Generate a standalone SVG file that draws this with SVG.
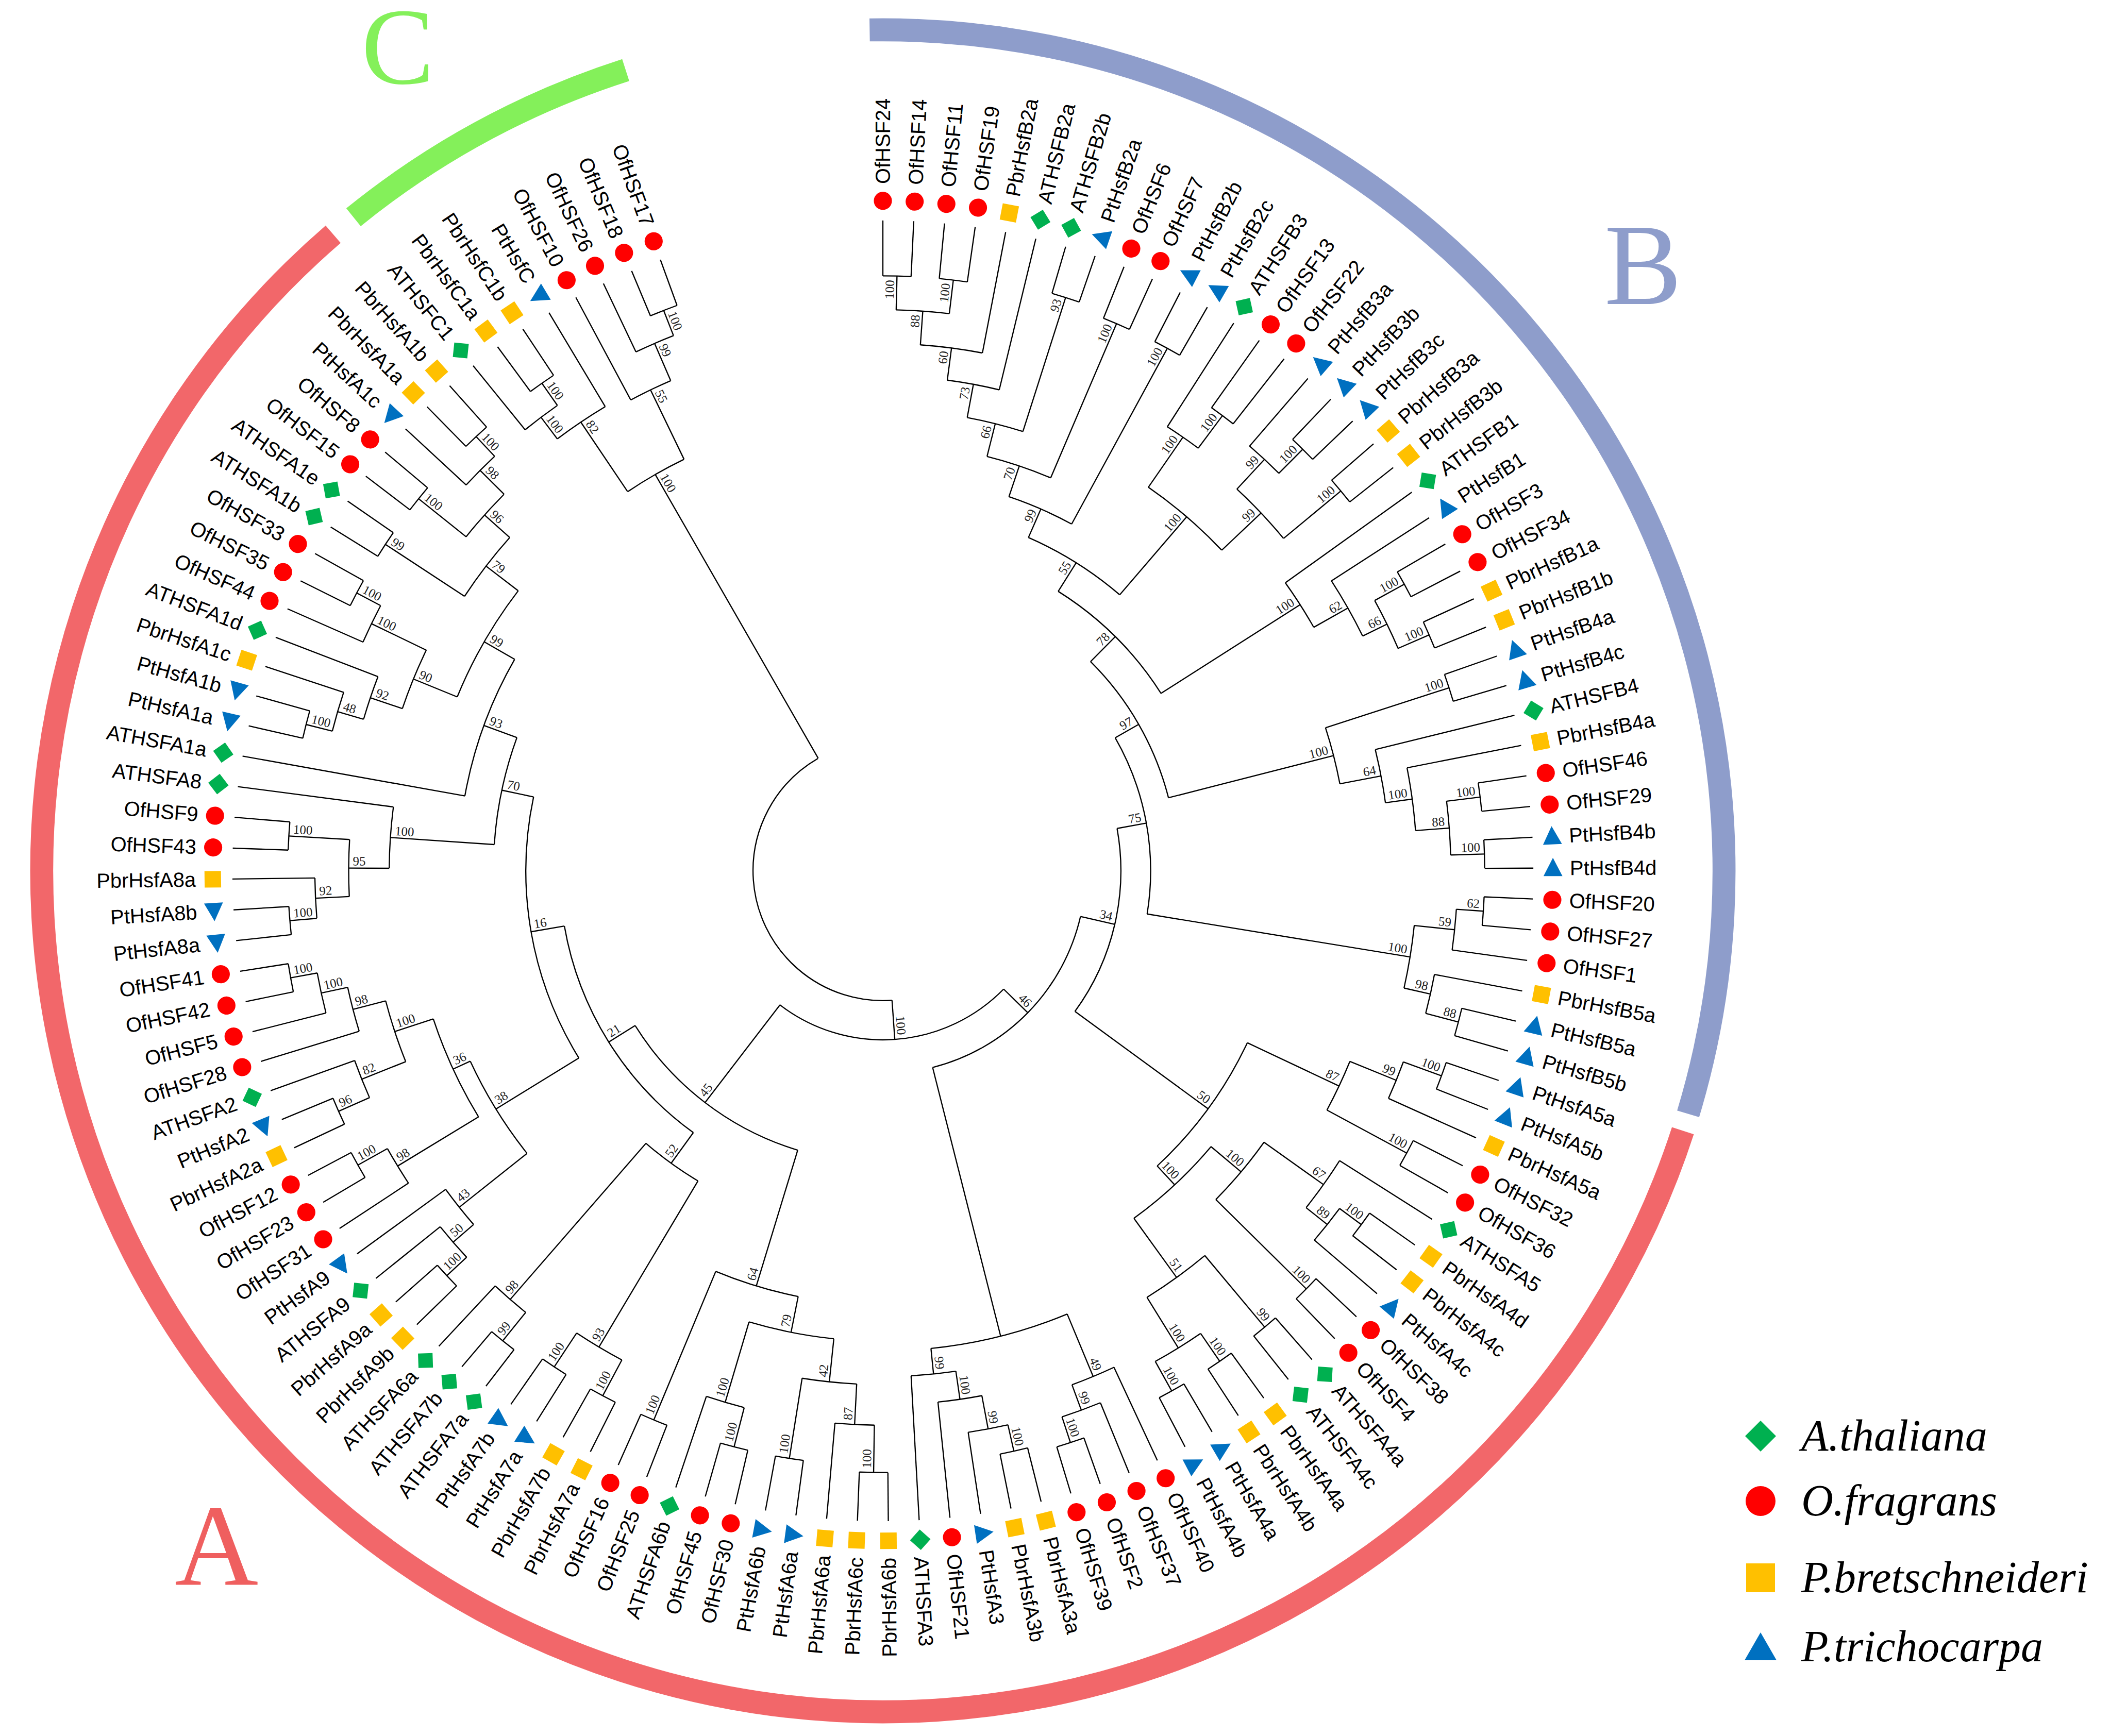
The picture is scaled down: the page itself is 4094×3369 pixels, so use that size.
<svg xmlns="http://www.w3.org/2000/svg" xmlns:xlink="http://www.w3.org/1999/xlink" width="4094" height="3369" viewBox="0 0 4094 3369">
<style>
.e path,.e circle{fill:none;stroke:#000;stroke-width:0.9}
.lab{font-family:"Liberation Sans",Arial,sans-serif;font-size:15.2px;fill:#000}
.l{text-anchor:end}
.bs{font-family:"Liberation Serif","Times New Roman",serif;font-size:9.5px;fill:#222;text-anchor:end}
.bsl{font-family:"Liberation Serif","Times New Roman",serif;font-size:9.5px;fill:#222;text-anchor:start}
.ring{fill:none;stroke-width:17}
.big{font-family:"Liberation Serif","Times New Roman",serif;font-size:225px;text-anchor:middle}
.leg{font-family:"Liberation Serif","Times New Roman",serif;font-style:italic;font-size:86px;fill:#000}
</style>
<defs>
<circle id="ci" r="6.7" fill="#ff0000"/>
<rect id="sq" x="-6.1" y="-6.1" width="12.2" height="12.2" fill="#ffc000"/>
<polygon id="di" points="0,-7.6 7.6,0 0,7.6 -7.6,0" fill="#00b050"/>
<polygon id="tr" points="-7.5,0 6,-7 6,7" fill="#0070c0"/>
</defs>
<rect width="4094" height="3369" fill="#fff"/>
<g transform="translate(1713,1690) scale(2.624) rotate(-1.4)">
<g id="rings">
<circle class="ring" r="622" stroke="#8e9dcb" pathLength="360" stroke-dasharray="107.7 400" transform="rotate(-89.5)"/>
<circle class="ring" r="622" stroke="#f2676a" pathLength="360" stroke-dasharray="211.2 400" transform="rotate(19.4)"/>
<circle class="ring" r="622" stroke="#84f05a" pathLength="360" stroke-dasharray="21.2 400" transform="rotate(232.4)"/>
</g>
<g id="connectors" class="e">
<circle r="96" pathLength="360" stroke-dasharray="154.19 400" transform="rotate(87.35)"/>
<circle r="125" pathLength="360" stroke-dasharray="83.1 400" transform="rotate(45.8)"/>
<circle r="150" pathLength="360" stroke-dasharray="62.8 400" transform="rotate(14.4)"/>
<circle r="176" pathLength="360" stroke-dasharray="46.46 400" transform="rotate(-8.86)"/>
<circle r="198" pathLength="360" stroke-dasharray="39.08 400" transform="rotate(-28.4)"/>
<circle r="218" pathLength="360" stroke-dasharray="30.87 400" transform="rotate(-43.82)"/>
<circle r="244" pathLength="360" stroke-dasharray="25.36 400" transform="rotate(-56.5)"/>
<circle r="269" pathLength="360" stroke-dasharray="17.04 400" transform="rotate(-65.01)"/>
<circle r="292" pathLength="360" stroke-dasharray="9.94 400" transform="rotate(-69.98)"/>
<circle r="316" pathLength="360" stroke-dasharray="9.01 400" transform="rotate(-74.49)"/>
<circle r="341" pathLength="360" stroke-dasharray="7.14 400" transform="rotate(-78.06)"/>
<circle r="366" pathLength="360" stroke-dasharray="6.12 400" transform="rotate(-81.12)"/>
<circle r="390" pathLength="360" stroke-dasharray="6.8 400" transform="rotate(-84.52)"/>
<circle r="415" pathLength="360" stroke-dasharray="5.44 400" transform="rotate(-87.24)"/>
<circle r="440" pathLength="360" stroke-dasharray="2.72 400" transform="rotate(-88.6)"/>
<circle r="440" pathLength="360" stroke-dasharray="2.72 400" transform="rotate(-83.16)"/>
<circle r="445" pathLength="360" stroke-dasharray="2.72 400" transform="rotate(-72.28)"/>
<circle r="440" pathLength="360" stroke-dasharray="2.72 400" transform="rotate(-66.84)"/>
<circle r="440" pathLength="360" stroke-dasharray="2.72 400" transform="rotate(-61.4)"/>
<circle r="345" pathLength="360" stroke-dasharray="11.9 400" transform="rotate(-53.92)"/>
<circle r="390" pathLength="360" stroke-dasharray="4.08 400" transform="rotate(-55.96)"/>
<circle r="420" pathLength="360" stroke-dasharray="2.72 400" transform="rotate(-53.24)"/>
<circle r="385" pathLength="360" stroke-dasharray="7.48 400" transform="rotate(-45.76)"/>
<circle r="415" pathLength="360" stroke-dasharray="4.08 400" transform="rotate(-47.8)"/>
<circle r="440" pathLength="360" stroke-dasharray="2.72 400" transform="rotate(-45.08)"/>
<circle r="440" pathLength="360" stroke-dasharray="2.72 400" transform="rotate(-39.64)"/>
<circle r="366" pathLength="360" stroke-dasharray="6.12 400" transform="rotate(-34.2)"/>
<circle r="395" pathLength="360" stroke-dasharray="6.8 400" transform="rotate(-31.48)"/>
<circle r="415" pathLength="360" stroke-dasharray="5.44 400" transform="rotate(-27.4)"/>
<circle r="440" pathLength="360" stroke-dasharray="2.72 400" transform="rotate(-28.76)"/>
<circle r="440" pathLength="360" stroke-dasharray="2.72 400" transform="rotate(-23.32)"/>
<circle r="344" pathLength="360" stroke-dasharray="7.14 400" transform="rotate(-16.52)"/>
<circle r="440" pathLength="360" stroke-dasharray="2.72 400" transform="rotate(-17.88)"/>
<circle r="375" pathLength="360" stroke-dasharray="6.12 400" transform="rotate(-12.44)"/>
<circle r="395" pathLength="360" stroke-dasharray="6.8 400" transform="rotate(-9.72)"/>
<circle r="420" pathLength="360" stroke-dasharray="5.44 400" transform="rotate(-5.64)"/>
<circle r="445" pathLength="360" stroke-dasharray="2.72 400" transform="rotate(-7)"/>
<circle r="445" pathLength="360" stroke-dasharray="2.72 400" transform="rotate(-1.56)"/>
<circle r="395" pathLength="360" stroke-dasharray="6.8 400" transform="rotate(7.28)"/>
<circle r="425" pathLength="360" stroke-dasharray="4.08 400" transform="rotate(5.24)"/>
<circle r="445" pathLength="360" stroke-dasharray="2.72 400" transform="rotate(3.88)"/>
<circle r="415" pathLength="360" stroke-dasharray="4.08 400" transform="rotate(12.04)"/>
<circle r="440" pathLength="360" stroke-dasharray="2.72 400" transform="rotate(14.76)"/>
<circle r="298" pathLength="360" stroke-dasharray="21.84 400" transform="rotate(26.66)"/>
<circle r="373" pathLength="360" stroke-dasharray="6.12 400" transform="rotate(23.6)"/>
<circle r="410" pathLength="360" stroke-dasharray="4.08 400" transform="rotate(21.56)"/>
<circle r="440" pathLength="360" stroke-dasharray="2.72 400" transform="rotate(20.2)"/>
<circle r="440" pathLength="360" stroke-dasharray="2.72 400" transform="rotate(28.36)"/>
<circle r="317" pathLength="360" stroke-dasharray="14.11 400" transform="rotate(41.45)"/>
<circle r="346" pathLength="360" stroke-dasharray="9.18 400" transform="rotate(36.86)"/>
<circle r="400" pathLength="360" stroke-dasharray="6.12 400" transform="rotate(33.8)"/>
<circle r="420" pathLength="360" stroke-dasharray="4.08 400" transform="rotate(37.88)"/>
<circle r="440" pathLength="360" stroke-dasharray="2.72 400" transform="rotate(36.52)"/>
<circle r="440" pathLength="360" stroke-dasharray="2.72 400" transform="rotate(44.68)"/>
<circle r="371" pathLength="360" stroke-dasharray="8.16 400" transform="rotate(51.48)"/>
<circle r="440" pathLength="360" stroke-dasharray="2.72 400" transform="rotate(50.12)"/>
<circle r="415" pathLength="360" stroke-dasharray="5.44 400" transform="rotate(56.92)"/>
<circle r="440" pathLength="360" stroke-dasharray="2.72 400" transform="rotate(55.56)"/>
<circle r="440" pathLength="360" stroke-dasharray="2.72 400" transform="rotate(61)"/>
<circle r="355" pathLength="360" stroke-dasharray="16.83 400" transform="rotate(68.82)"/>
<circle r="405" pathLength="360" stroke-dasharray="4.76 400" transform="rotate(66.44)"/>
<circle r="425" pathLength="360" stroke-dasharray="4.08 400" transform="rotate(69.16)"/>
<circle r="445" pathLength="360" stroke-dasharray="2.72 400" transform="rotate(71.88)"/>
<circle r="374" pathLength="360" stroke-dasharray="5.1 400" transform="rotate(83.1)"/>
<circle r="395" pathLength="360" stroke-dasharray="4.76 400" transform="rotate(80.72)"/>
<circle r="420" pathLength="360" stroke-dasharray="4.08 400" transform="rotate(78.68)"/>
<circle r="440" pathLength="360" stroke-dasharray="2.72 400" transform="rotate(77.32)"/>
<circle r="216" pathLength="360" stroke-dasharray="41.05 400" transform="rotate(108.35)"/>
<circle r="321" pathLength="360" stroke-dasharray="11.39 400" transform="rotate(102.65)"/>
<circle r="348" pathLength="360" stroke-dasharray="10.54 400" transform="rotate(97.38)"/>
<circle r="380" pathLength="360" stroke-dasharray="6.12 400" transform="rotate(94.32)"/>
<circle r="410" pathLength="360" stroke-dasharray="4.08 400" transform="rotate(92.28)"/>
<circle r="445" pathLength="360" stroke-dasharray="2.72 400" transform="rotate(90.92)"/>
<circle r="440" pathLength="360" stroke-dasharray="2.72 400" transform="rotate(99.08)"/>
<circle r="410" pathLength="360" stroke-dasharray="4.08 400" transform="rotate(105.88)"/>
<circle r="440" pathLength="360" stroke-dasharray="2.72 400" transform="rotate(104.52)"/>
<circle r="440" pathLength="360" stroke-dasharray="2.72 400" transform="rotate(112.68)"/>
<circle r="239" pathLength="360" stroke-dasharray="44.27 400" transform="rotate(127.3)"/>
<circle r="267" pathLength="360" stroke-dasharray="10.2 400" transform="rotate(122.2)"/>
<circle r="410" pathLength="360" stroke-dasharray="5.44 400" transform="rotate(119.48)"/>
<circle r="440" pathLength="360" stroke-dasharray="2.72 400" transform="rotate(118.12)"/>
<circle r="440" pathLength="360" stroke-dasharray="2.72 400" transform="rotate(123.56)"/>
<circle r="420" pathLength="360" stroke-dasharray="4.08 400" transform="rotate(130.36)"/>
<circle r="447" pathLength="360" stroke-dasharray="2.72 400" transform="rotate(129)"/>
<circle r="264" pathLength="360" stroke-dasharray="43.57 400" transform="rotate(149.78)"/>
<circle r="336" pathLength="360" stroke-dasharray="13.69 400" transform="rotate(142.94)"/>
<circle r="400" pathLength="360" stroke-dasharray="4.76 400" transform="rotate(140.56)"/>
<circle r="420" pathLength="360" stroke-dasharray="4.08 400" transform="rotate(138.52)"/>
<circle r="440" pathLength="360" stroke-dasharray="2.72 400" transform="rotate(137.16)"/>
<circle r="350" pathLength="360" stroke-dasharray="13.09 400" transform="rotate(150.08)"/>
<circle r="420" pathLength="360" stroke-dasharray="4.08 400" transform="rotate(148.04)"/>
<circle r="445" pathLength="360" stroke-dasharray="2.72 400" transform="rotate(150.76)"/>
<circle r="380" pathLength="360" stroke-dasharray="7.14 400" transform="rotate(159.6)"/>
<circle r="415" pathLength="360" stroke-dasharray="4.08 400" transform="rotate(157.56)"/>
<circle r="440" pathLength="360" stroke-dasharray="2.72 400" transform="rotate(156.2)"/>
<circle r="405" pathLength="360" stroke-dasharray="4.76 400" transform="rotate(164.36)"/>
<circle r="425" pathLength="360" stroke-dasharray="4.08 400" transform="rotate(167.08)"/>
<circle r="445" pathLength="360" stroke-dasharray="2.72 400" transform="rotate(169.8)"/>
<circle r="288" pathLength="360" stroke-dasharray="16.15 400" transform="rotate(185.27)"/>
<circle r="365" pathLength="360" stroke-dasharray="7.14 400" transform="rotate(181.7)"/>
<circle r="395" pathLength="360" stroke-dasharray="6.12 400" transform="rotate(178.64)"/>
<circle r="420" pathLength="360" stroke-dasharray="4.08 400" transform="rotate(176.6)"/>
<circle r="440" pathLength="360" stroke-dasharray="2.72 400" transform="rotate(175.24)"/>
<circle r="440" pathLength="360" stroke-dasharray="2.72 400" transform="rotate(183.4)"/>
<circle r="314" pathLength="360" stroke-dasharray="19.72 400" transform="rotate(191.56)"/>
<circle r="340" pathLength="360" stroke-dasharray="15.3 400" transform="rotate(203.63)"/>
<circle r="375" pathLength="360" stroke-dasharray="7.14 400" transform="rotate(200.06)"/>
<circle r="400" pathLength="360" stroke-dasharray="4.76 400" transform="rotate(197.68)"/>
<circle r="420" pathLength="360" stroke-dasharray="4.08 400" transform="rotate(195.64)"/>
<circle r="440" pathLength="360" stroke-dasharray="2.72 400" transform="rotate(194.28)"/>
<circle r="420" pathLength="360" stroke-dasharray="4.08 400" transform="rotate(205.16)"/>
<circle r="440" pathLength="360" stroke-dasharray="2.72 400" transform="rotate(207.88)"/>
<circle r="370" pathLength="360" stroke-dasharray="8.5 400" transform="rotate(214.68)"/>
<circle r="440" pathLength="360" stroke-dasharray="2.72 400" transform="rotate(213.32)"/>
<circle r="395" pathLength="360" stroke-dasharray="6.12 400" transform="rotate(220.12)"/>
<circle r="440" pathLength="360" stroke-dasharray="2.72 400" transform="rotate(218.76)"/>
<circle r="420" pathLength="360" stroke-dasharray="4.08 400" transform="rotate(224.2)"/>
<circle r="440" pathLength="360" stroke-dasharray="2.72 400" transform="rotate(226.92)"/>
<circle r="338" pathLength="360" stroke-dasharray="8.16 400" transform="rotate(237.46)"/>
<circle r="400" pathLength="360" stroke-dasharray="6.12 400" transform="rotate(234.4)"/>
<circle r="420" pathLength="360" stroke-dasharray="4.08 400" transform="rotate(232.36)"/>
<circle r="440" pathLength="360" stroke-dasharray="2.72 400" transform="rotate(235.08)"/>
<circle r="395" pathLength="360" stroke-dasharray="4.76 400" transform="rotate(243.24)"/>
<circle r="425" pathLength="360" stroke-dasharray="4.08 400" transform="rotate(245.96)"/>
<circle r="445" pathLength="360" stroke-dasharray="2.72 400" transform="rotate(248.68)"/>
<path d="M0-96V-125" transform="rotate(177.35)"/>
<path d="M0-96V-338" transform="rotate(331.54)"/>
<path d="M0-125V-150" transform="rotate(135.8)"/>
<path d="M0-125V-216" transform="rotate(218.9)"/>
<path d="M0-150V-176" transform="rotate(104.4)"/>
<path d="M0-150V-355" transform="rotate(167.2)"/>
<path d="M0-176V-198" transform="rotate(81.14)"/>
<path d="M0-176V-298" transform="rotate(127.6)"/>
<path d="M0-198V-218" transform="rotate(61.6)"/>
<path d="M0-198V-395" transform="rotate(100.68)"/>
<path d="M0-218V-244" transform="rotate(46.18)"/>
<path d="M0-218V-344" transform="rotate(77.05)"/>
<path d="M0-244V-269" transform="rotate(33.5)"/>
<path d="M0-244V-366" transform="rotate(58.86)"/>
<path d="M0-269V-292" transform="rotate(24.99)"/>
<path d="M0-269V-345" transform="rotate(42.03)"/>
<path d="M0-292V-316" transform="rotate(20.02)"/>
<path d="M0-292V-440" transform="rotate(29.96)"/>
<path d="M0-316V-341" transform="rotate(15.51)"/>
<path d="M0-316V-440" transform="rotate(24.52)"/>
<path d="M0-341V-366" transform="rotate(11.94)"/>
<path d="M0-341V-445" transform="rotate(19.08)"/>
<path d="M0-366V-390" transform="rotate(8.88)"/>
<path d="M0-390V-415" transform="rotate(5.48)"/>
<path d="M0-415V-440" transform="rotate(2.76)"/>
<path d="M0-415V-440" transform="rotate(8.2)"/>
<path d="M0-345V-390" transform="rotate(36.08)"/>
<path d="M0-345V-385" transform="rotate(47.98)"/>
<path d="M0-390V-420" transform="rotate(38.12)"/>
<path d="M0-385V-415" transform="rotate(44.24)"/>
<path d="M0-385V-440" transform="rotate(51.72)"/>
<path d="M0-415V-440" transform="rotate(46.28)"/>
<path d="M0-366V-395" transform="rotate(61.92)"/>
<path d="M0-395V-415" transform="rotate(65.32)"/>
<path d="M0-415V-440" transform="rotate(62.6)"/>
<path d="M0-415V-440" transform="rotate(68.04)"/>
<path d="M0-344V-440" transform="rotate(73.48)"/>
<path d="M0-344V-375" transform="rotate(80.62)"/>
<path d="M0-375V-395" transform="rotate(83.68)"/>
<path d="M0-395V-420" transform="rotate(87.08)"/>
<path d="M0-420V-445" transform="rotate(84.36)"/>
<path d="M0-420V-445" transform="rotate(89.8)"/>
<path d="M0-395V-425" transform="rotate(97.28)"/>
<path d="M0-395V-415" transform="rotate(104.08)"/>
<path d="M0-425V-445" transform="rotate(95.24)"/>
<path d="M0-415V-440" transform="rotate(106.12)"/>
<path d="M0-298V-373" transform="rotate(116.66)"/>
<path d="M0-298V-317" transform="rotate(138.5)"/>
<path d="M0-373V-410" transform="rotate(113.6)"/>
<path d="M0-373V-440" transform="rotate(119.72)"/>
<path d="M0-410V-440" transform="rotate(111.56)"/>
<path d="M0-317V-346" transform="rotate(131.45)"/>
<path d="M0-317V-371" transform="rotate(145.56)"/>
<path d="M0-346V-400" transform="rotate(126.86)"/>
<path d="M0-346V-440" transform="rotate(136.04)"/>
<path d="M0-400V-420" transform="rotate(129.92)"/>
<path d="M0-420V-440" transform="rotate(127.88)"/>
<path d="M0-371V-440" transform="rotate(141.48)"/>
<path d="M0-371V-415" transform="rotate(149.64)"/>
<path d="M0-415V-440" transform="rotate(146.92)"/>
<path d="M0-415V-440" transform="rotate(152.36)"/>
<path d="M0-355V-405" transform="rotate(158.82)"/>
<path d="M0-355V-374" transform="rotate(175.65)"/>
<path d="M0-405V-425" transform="rotate(161.2)"/>
<path d="M0-425V-445" transform="rotate(163.24)"/>
<path d="M0-374V-395" transform="rotate(173.1)"/>
<path d="M0-395V-420" transform="rotate(170.72)"/>
<path d="M0-420V-440" transform="rotate(168.68)"/>
<path d="M0-216V-321" transform="rotate(198.35)"/>
<path d="M0-216V-239" transform="rotate(239.4)"/>
<path d="M0-321V-348" transform="rotate(192.65)"/>
<path d="M0-321V-440" transform="rotate(204.04)"/>
<path d="M0-348V-380" transform="rotate(187.38)"/>
<path d="M0-348V-410" transform="rotate(197.92)"/>
<path d="M0-380V-410" transform="rotate(184.32)"/>
<path d="M0-380V-440" transform="rotate(190.44)"/>
<path d="M0-410V-445" transform="rotate(182.28)"/>
<path d="M0-410V-440" transform="rotate(195.88)"/>
<path d="M0-239V-267" transform="rotate(217.3)"/>
<path d="M0-239V-264" transform="rotate(261.57)"/>
<path d="M0-267V-410" transform="rotate(212.2)"/>
<path d="M0-267V-420" transform="rotate(222.4)"/>
<path d="M0-410V-440" transform="rotate(209.48)"/>
<path d="M0-410V-440" transform="rotate(214.92)"/>
<path d="M0-420V-447" transform="rotate(220.36)"/>
<path d="M0-264V-336" transform="rotate(239.78)"/>
<path d="M0-264V-288" transform="rotate(283.35)"/>
<path d="M0-336V-400" transform="rotate(232.94)"/>
<path d="M0-336V-350" transform="rotate(246.63)"/>
<path d="M0-400V-420" transform="rotate(230.56)"/>
<path d="M0-420V-440" transform="rotate(228.52)"/>
<path d="M0-350V-420" transform="rotate(240.08)"/>
<path d="M0-350V-380" transform="rotate(253.17)"/>
<path d="M0-420V-445" transform="rotate(242.12)"/>
<path d="M0-380V-415" transform="rotate(249.6)"/>
<path d="M0-380V-405" transform="rotate(256.74)"/>
<path d="M0-415V-440" transform="rotate(247.56)"/>
<path d="M0-405V-425" transform="rotate(259.12)"/>
<path d="M0-425V-445" transform="rotate(261.16)"/>
<path d="M0-288V-365" transform="rotate(275.27)"/>
<path d="M0-288V-314" transform="rotate(291.42)"/>
<path d="M0-365V-395" transform="rotate(271.7)"/>
<path d="M0-395V-420" transform="rotate(268.64)"/>
<path d="M0-395V-440" transform="rotate(274.76)"/>
<path d="M0-420V-440" transform="rotate(266.6)"/>
<path d="M0-314V-340" transform="rotate(301.28)"/>
<path d="M0-340V-375" transform="rotate(293.63)"/>
<path d="M0-340V-370" transform="rotate(308.93)"/>
<path d="M0-375V-400" transform="rotate(290.06)"/>
<path d="M0-375V-420" transform="rotate(297.2)"/>
<path d="M0-400V-420" transform="rotate(287.68)"/>
<path d="M0-420V-440" transform="rotate(285.64)"/>
<path d="M0-420V-440" transform="rotate(299.24)"/>
<path d="M0-370V-440" transform="rotate(304.68)"/>
<path d="M0-370V-395" transform="rotate(313.18)"/>
<path d="M0-395V-440" transform="rotate(310.12)"/>
<path d="M0-395V-420" transform="rotate(316.24)"/>
<path d="M0-420V-440" transform="rotate(318.28)"/>
<path d="M0-338V-400" transform="rotate(327.46)"/>
<path d="M0-338V-395" transform="rotate(335.62)"/>
<path d="M0-400V-420" transform="rotate(324.4)"/>
<path d="M0-420V-440" transform="rotate(326.44)"/>
<path d="M0-395V-425" transform="rotate(338)"/>
<path d="M0-425V-445" transform="rotate(340.04)"/>
<path d="M0-440V-481" transform="rotate(1.4)"/>
<path d="M0-440V-481" transform="rotate(4.12)"/>
<path d="M0-440V-481" transform="rotate(6.84)"/>
<path d="M0-440V-481" transform="rotate(9.56)"/>
<path d="M0-390V-481" transform="rotate(12.28)"/>
<path d="M0-366V-481" transform="rotate(15)"/>
<path d="M0-445V-481" transform="rotate(17.72)"/>
<path d="M0-445V-481" transform="rotate(20.44)"/>
<path d="M0-440V-481" transform="rotate(23.16)"/>
<path d="M0-440V-481" transform="rotate(25.88)"/>
<path d="M0-440V-481" transform="rotate(28.6)"/>
<path d="M0-440V-481" transform="rotate(31.32)"/>
<path d="M0-390V-481" transform="rotate(34.04)"/>
<path d="M0-420V-481" transform="rotate(36.76)"/>
<path d="M0-420V-481" transform="rotate(39.48)"/>
<path d="M0-415V-481" transform="rotate(42.2)"/>
<path d="M0-440V-481" transform="rotate(44.92)"/>
<path d="M0-440V-481" transform="rotate(47.64)"/>
<path d="M0-440V-481" transform="rotate(50.36)"/>
<path d="M0-440V-481" transform="rotate(53.08)"/>
<path d="M0-366V-481" transform="rotate(55.8)"/>
<path d="M0-395V-481" transform="rotate(58.52)"/>
<path d="M0-440V-481" transform="rotate(61.24)"/>
<path d="M0-440V-481" transform="rotate(63.96)"/>
<path d="M0-440V-481" transform="rotate(66.68)"/>
<path d="M0-440V-481" transform="rotate(69.4)"/>
<path d="M0-440V-481" transform="rotate(72.12)"/>
<path d="M0-440V-481" transform="rotate(74.84)"/>
<path d="M0-375V-481" transform="rotate(77.56)"/>
<path d="M0-395V-481" transform="rotate(80.28)"/>
<path d="M0-445V-481" transform="rotate(83)"/>
<path d="M0-445V-481" transform="rotate(85.72)"/>
<path d="M0-445V-481" transform="rotate(88.44)"/>
<path d="M0-445V-481" transform="rotate(91.16)"/>
<path d="M0-445V-481" transform="rotate(93.88)"/>
<path d="M0-445V-481" transform="rotate(96.6)"/>
<path d="M0-425V-481" transform="rotate(99.32)"/>
<path d="M0-415V-481" transform="rotate(102.04)"/>
<path d="M0-440V-481" transform="rotate(104.76)"/>
<path d="M0-440V-481" transform="rotate(107.48)"/>
<path d="M0-440V-481" transform="rotate(110.2)"/>
<path d="M0-440V-481" transform="rotate(112.92)"/>
<path d="M0-410V-481" transform="rotate(115.64)"/>
<path d="M0-440V-481" transform="rotate(118.36)"/>
<path d="M0-440V-481" transform="rotate(121.08)"/>
<path d="M0-400V-481" transform="rotate(123.8)"/>
<path d="M0-440V-481" transform="rotate(126.52)"/>
<path d="M0-440V-481" transform="rotate(129.24)"/>
<path d="M0-420V-481" transform="rotate(131.96)"/>
<path d="M0-440V-481" transform="rotate(134.68)"/>
<path d="M0-440V-481" transform="rotate(137.4)"/>
<path d="M0-440V-481" transform="rotate(140.12)"/>
<path d="M0-440V-481" transform="rotate(142.84)"/>
<path d="M0-440V-481" transform="rotate(145.56)"/>
<path d="M0-440V-481" transform="rotate(148.28)"/>
<path d="M0-440V-481" transform="rotate(151)"/>
<path d="M0-440V-481" transform="rotate(153.72)"/>
<path d="M0-405V-481" transform="rotate(156.44)"/>
<path d="M0-425V-481" transform="rotate(159.16)"/>
<path d="M0-445V-481" transform="rotate(161.88)"/>
<path d="M0-445V-481" transform="rotate(164.6)"/>
<path d="M0-440V-481" transform="rotate(167.32)"/>
<path d="M0-440V-481" transform="rotate(170.04)"/>
<path d="M0-420V-481" transform="rotate(172.76)"/>
<path d="M0-395V-481" transform="rotate(175.48)"/>
<path d="M0-374V-481" transform="rotate(178.2)"/>
<path d="M0-445V-481" transform="rotate(180.92)"/>
<path d="M0-445V-481" transform="rotate(183.64)"/>
<path d="M0-410V-481" transform="rotate(186.36)"/>
<path d="M0-440V-481" transform="rotate(189.08)"/>
<path d="M0-440V-481" transform="rotate(191.8)"/>
<path d="M0-440V-481" transform="rotate(194.52)"/>
<path d="M0-440V-481" transform="rotate(197.24)"/>
<path d="M0-410V-481" transform="rotate(199.96)"/>
<path d="M0-440V-481" transform="rotate(202.68)"/>
<path d="M0-440V-481" transform="rotate(205.4)"/>
<path d="M0-440V-481" transform="rotate(208.12)"/>
<path d="M0-440V-481" transform="rotate(210.84)"/>
<path d="M0-440V-481" transform="rotate(213.56)"/>
<path d="M0-440V-481" transform="rotate(216.28)"/>
<path d="M0-447V-481" transform="rotate(219)"/>
<path d="M0-447V-481" transform="rotate(221.72)"/>
<path d="M0-420V-481" transform="rotate(224.44)"/>
<path d="M0-440V-481" transform="rotate(227.16)"/>
<path d="M0-440V-481" transform="rotate(229.88)"/>
<path d="M0-420V-481" transform="rotate(232.6)"/>
<path d="M0-400V-481" transform="rotate(235.32)"/>
<path d="M0-420V-481" transform="rotate(238.04)"/>
<path d="M0-445V-481" transform="rotate(240.76)"/>
<path d="M0-445V-481" transform="rotate(243.48)"/>
<path d="M0-440V-481" transform="rotate(246.2)"/>
<path d="M0-440V-481" transform="rotate(248.92)"/>
<path d="M0-415V-481" transform="rotate(251.64)"/>
<path d="M0-405V-481" transform="rotate(254.36)"/>
<path d="M0-425V-481" transform="rotate(257.08)"/>
<path d="M0-445V-481" transform="rotate(259.8)"/>
<path d="M0-445V-481" transform="rotate(262.52)"/>
<path d="M0-440V-481" transform="rotate(265.24)"/>
<path d="M0-440V-481" transform="rotate(267.96)"/>
<path d="M0-420V-481" transform="rotate(270.68)"/>
<path d="M0-440V-481" transform="rotate(273.4)"/>
<path d="M0-440V-481" transform="rotate(276.12)"/>
<path d="M0-365V-481" transform="rotate(278.84)"/>
<path d="M0-314V-481" transform="rotate(281.56)"/>
<path d="M0-440V-481" transform="rotate(284.28)"/>
<path d="M0-440V-481" transform="rotate(287)"/>
<path d="M0-420V-481" transform="rotate(289.72)"/>
<path d="M0-400V-481" transform="rotate(292.44)"/>
<path d="M0-420V-481" transform="rotate(295.16)"/>
<path d="M0-440V-481" transform="rotate(297.88)"/>
<path d="M0-440V-481" transform="rotate(300.6)"/>
<path d="M0-440V-481" transform="rotate(303.32)"/>
<path d="M0-440V-481" transform="rotate(306.04)"/>
<path d="M0-440V-481" transform="rotate(308.76)"/>
<path d="M0-440V-481" transform="rotate(311.48)"/>
<path d="M0-420V-481" transform="rotate(314.2)"/>
<path d="M0-440V-481" transform="rotate(316.92)"/>
<path d="M0-440V-481" transform="rotate(319.64)"/>
<path d="M0-420V-481" transform="rotate(322.36)"/>
<path d="M0-440V-481" transform="rotate(325.08)"/>
<path d="M0-440V-481" transform="rotate(327.8)"/>
<path d="M0-400V-481" transform="rotate(330.52)"/>
<path d="M0-395V-481" transform="rotate(333.24)"/>
<path d="M0-425V-481" transform="rotate(335.96)"/>
<path d="M0-445V-481" transform="rotate(338.68)"/>
<path d="M0-445V-481" transform="rotate(341.4)"/>
</g>
<g id="bootstrap">
<text class="bs" transform="rotate(87.35)" x="122" y="-2">100</text>
<text class="bs" transform="rotate(45.8)" x="147" y="-2">46</text>
<text class="bs" transform="rotate(14.4)" x="173" y="-2">34</text>
<text class="bs" transform="rotate(-8.86)" x="195" y="-2">75</text>
<text class="bs" transform="rotate(-28.4)" x="215" y="-2">97</text>
<text class="bs" transform="rotate(-43.82)" x="241" y="-2">78</text>
<text class="bs" transform="rotate(-56.5)" x="266" y="-2">55</text>
<text class="bs" transform="rotate(-65.01)" x="289" y="-2">99</text>
<text class="bs" transform="rotate(-69.98)" x="313" y="-2">70</text>
<text class="bs" transform="rotate(-74.49)" x="338" y="-2">66</text>
<text class="bs" transform="rotate(-78.06)" x="363" y="-2">73</text>
<text class="bs" transform="rotate(-81.12)" x="387" y="-2">60</text>
<text class="bs" transform="rotate(-84.52)" x="412" y="-2">88</text>
<text class="bs" transform="rotate(-87.24)" x="437" y="-2">100</text>
<text class="bs" transform="rotate(-81.8)" x="437" y="-2">100</text>
<text class="bs" transform="rotate(-70.92)" x="442" y="-2">93</text>
<text class="bs" transform="rotate(-65.48)" x="437" y="-2">100</text>
<text class="bs" transform="rotate(-60.04)" x="437" y="-2">100</text>
<text class="bs" transform="rotate(-47.97)" x="342" y="-2">100</text>
<text class="bs" transform="rotate(-53.92)" x="387" y="-2">100</text>
<text class="bs" transform="rotate(-51.88)" x="417" y="-2">100</text>
<text class="bs" transform="rotate(-42.02)" x="382" y="-2">99</text>
<text class="bs" transform="rotate(-45.76)" x="412" y="-2">99</text>
<text class="bs" transform="rotate(-43.72)" x="437" y="-2">100</text>
<text class="bs" transform="rotate(-38.28)" x="437" y="-2">100</text>
<text class="bs" transform="rotate(-31.14)" x="363" y="-2">100</text>
<text class="bs" transform="rotate(-28.08)" x="392" y="-2">62</text>
<text class="bs" transform="rotate(-24.68)" x="412" y="-2">66</text>
<text class="bs" transform="rotate(-27.4)" x="437" y="-2">100</text>
<text class="bs" transform="rotate(-21.96)" x="437" y="-2">100</text>
<text class="bs" transform="rotate(-12.95)" x="341" y="-2">100</text>
<text class="bs" transform="rotate(-16.52)" x="437" y="-2">100</text>
<text class="bs" transform="rotate(-9.38)" x="372" y="-2">64</text>
<text class="bs" transform="rotate(-6.32)" x="392" y="-2">100</text>
<text class="bs" transform="rotate(-2.92)" x="417" y="-2">88</text>
<text class="bs" transform="rotate(-5.64)" x="442" y="-2">100</text>
<text class="bs" transform="rotate(-0.2)" x="442" y="-2">100</text>
<text class="bs" transform="rotate(10.68)" x="392" y="-2">100</text>
<text class="bs" transform="rotate(7.28)" x="422" y="-2">59</text>
<text class="bs" transform="rotate(5.24)" x="442" y="-2">62</text>
<text class="bs" transform="rotate(14.08)" x="412" y="-2">98</text>
<text class="bs" transform="rotate(16.12)" x="437" y="-2">88</text>
<text class="bs" transform="rotate(37.6)" x="295" y="-2">50</text>
<text class="bs" transform="rotate(26.66)" x="370" y="-2">87</text>
<text class="bs" transform="rotate(23.6)" x="407" y="-2">99</text>
<text class="bs" transform="rotate(21.56)" x="437" y="-2">100</text>
<text class="bs" transform="rotate(29.72)" x="437" y="-2">100</text>
<text class="bs" transform="rotate(48.5)" x="314" y="-2">100</text>
<text class="bs" transform="rotate(41.45)" x="343" y="-2">100</text>
<text class="bs" transform="rotate(36.86)" x="397" y="-2">67</text>
<text class="bs" transform="rotate(39.92)" x="417" y="-2">89</text>
<text class="bs" transform="rotate(37.88)" x="437" y="-2">100</text>
<text class="bs" transform="rotate(46.04)" x="437" y="-2">100</text>
<text class="bs" transform="rotate(55.56)" x="368" y="-2">51</text>
<text class="bs" transform="rotate(51.48)" x="437" y="-2">99</text>
<text class="bs" transform="rotate(59.64)" x="412" y="-2">100</text>
<text class="bs" transform="rotate(56.92)" x="437" y="-2">100</text>
<text class="bs" transform="rotate(62.36)" x="437" y="-2">100</text>
<text class="bs" transform="rotate(68.82)" x="402" y="-2">49</text>
<text class="bs" transform="rotate(71.2)" x="422" y="-2">99</text>
<text class="bs" transform="rotate(73.24)" x="442" y="-2">100</text>
<text class="bs" transform="rotate(85.65)" x="371" y="-2">99</text>
<text class="bs" transform="rotate(83.1)" x="392" y="-2">100</text>
<text class="bs" transform="rotate(80.72)" x="417" y="-2">99</text>
<text class="bs" transform="rotate(78.68)" x="437" y="-2">100</text>
<text class="bsl" transform="rotate(308.9)" x="-213" y="-2">45</text>
<text class="bsl" transform="rotate(288.35)" x="-318" y="-2">64</text>
<text class="bsl" transform="rotate(282.65)" x="-345" y="-2">79</text>
<text class="bsl" transform="rotate(277.38)" x="-377" y="-2">42</text>
<text class="bsl" transform="rotate(274.32)" x="-407" y="-2">87</text>
<text class="bsl" transform="rotate(272.28)" x="-442" y="-2">100</text>
<text class="bsl" transform="rotate(280.44)" x="-437" y="-2">100</text>
<text class="bsl" transform="rotate(287.92)" x="-407" y="-2">100</text>
<text class="bsl" transform="rotate(285.88)" x="-437" y="-2">100</text>
<text class="bsl" transform="rotate(294.04)" x="-437" y="-2">100</text>
<text class="bsl" transform="rotate(329.4)" x="-236" y="-2">21</text>
<text class="bsl" transform="rotate(307.3)" x="-264" y="-2">52</text>
<text class="bsl" transform="rotate(302.2)" x="-407" y="-2">93</text>
<text class="bsl" transform="rotate(299.48)" x="-437" y="-2">100</text>
<text class="bsl" transform="rotate(304.92)" x="-437" y="-2">100</text>
<text class="bsl" transform="rotate(312.4)" x="-417" y="-2">98</text>
<text class="bsl" transform="rotate(310.36)" x="-444" y="-2">99</text>
<text class="bsl" transform="rotate(351.57)" x="-261" y="-2">16</text>
<text class="bsl" transform="rotate(329.78)" x="-333" y="-2">38</text>
<text class="bsl" transform="rotate(322.94)" x="-397" y="-2">43</text>
<text class="bsl" transform="rotate(320.56)" x="-417" y="-2">50</text>
<text class="bsl" transform="rotate(318.52)" x="-437" y="-2">100</text>
<text class="bsl" transform="rotate(336.63)" x="-347" y="-2">36</text>
<text class="bsl" transform="rotate(330.08)" x="-417" y="-2">98</text>
<text class="bsl" transform="rotate(332.12)" x="-442" y="-2">100</text>
<text class="bsl" transform="rotate(343.17)" x="-377" y="-2">100</text>
<text class="bsl" transform="rotate(339.6)" x="-412" y="-2">82</text>
<text class="bsl" transform="rotate(337.56)" x="-437" y="-2">96</text>
<text class="bsl" transform="rotate(346.74)" x="-402" y="-2">98</text>
<text class="bsl" transform="rotate(349.12)" x="-422" y="-2">100</text>
<text class="bsl" transform="rotate(351.16)" x="-442" y="-2">100</text>
<text class="bsl" transform="rotate(373.35)" x="-285" y="-2">70</text>
<text class="bsl" transform="rotate(365.27)" x="-362" y="-2">100</text>
<text class="bsl" transform="rotate(361.7)" x="-392" y="-2">95</text>
<text class="bsl" transform="rotate(358.64)" x="-417" y="-2">92</text>
<text class="bsl" transform="rotate(356.6)" x="-437" y="-2">100</text>
<text class="bsl" transform="rotate(364.76)" x="-437" y="-2">100</text>
<text class="bsl" transform="rotate(381.42)" x="-311" y="-2">93</text>
<text class="bsl" transform="rotate(391.28)" x="-337" y="-2">99</text>
<text class="bsl" transform="rotate(383.63)" x="-372" y="-2">90</text>
<text class="bsl" transform="rotate(380.06)" x="-397" y="-2">92</text>
<text class="bsl" transform="rotate(377.68)" x="-417" y="-2">48</text>
<text class="bsl" transform="rotate(375.64)" x="-437" y="-2">100</text>
<text class="bsl" transform="rotate(387.2)" x="-417" y="-2">100</text>
<text class="bsl" transform="rotate(389.24)" x="-437" y="-2">100</text>
<text class="bsl" transform="rotate(398.93)" x="-367" y="-2">79</text>
<text class="bsl" transform="rotate(394.68)" x="-437" y="-2">99</text>
<text class="bsl" transform="rotate(403.18)" x="-392" y="-2">96</text>
<text class="bsl" transform="rotate(400.12)" x="-437" y="-2">100</text>
<text class="bsl" transform="rotate(406.24)" x="-417" y="-2">98</text>
<text class="bsl" transform="rotate(408.28)" x="-437" y="-2">100</text>
<text class="bsl" transform="rotate(421.54)" x="-335" y="-2">100</text>
<text class="bsl" transform="rotate(417.46)" x="-397" y="-2">82</text>
<text class="bsl" transform="rotate(414.4)" x="-417" y="-2">100</text>
<text class="bsl" transform="rotate(416.44)" x="-437" y="-2">100</text>
<text class="bsl" transform="rotate(425.62)" x="-392" y="-2">55</text>
<text class="bsl" transform="rotate(428)" x="-422" y="-2">99</text>
<text class="bsl" transform="rotate(430.04)" x="-442" y="-2">100</text>
</g>
<g id="leaves" class="lab">
<g id="n-OfHSF24" transform="rotate(1.4)"><use href="#ci" y="-495.5"/><text transform="rotate(-90)" x="508" y="5.3">OfHSF24</text></g>
<g id="n-OfHSF14" transform="rotate(4.12)"><use href="#ci" y="-495.5"/><text transform="rotate(-90)" x="508" y="5.3">OfHSF14</text></g>
<g id="n-OfHSF11" transform="rotate(6.84)"><use href="#ci" y="-495.5"/><text transform="rotate(-90)" x="508" y="5.3">OfHSF11</text></g>
<g id="n-OfHSF19" transform="rotate(9.56)"><use href="#ci" y="-495.5"/><text transform="rotate(-90)" x="508" y="5.3">OfHSF19</text></g>
<g id="n-PbrHsfB2a" transform="rotate(12.28)"><use href="#sq" y="-495.5"/><text transform="rotate(-90)" x="508" y="5.3">PbrHsfB2a</text></g>
<g id="n-ATHSFB2a" transform="rotate(15)"><use href="#di" y="-495.5"/><text transform="rotate(-90)" x="508" y="5.3">ATHSFB2a</text></g>
<g id="n-ATHSFB2b" transform="rotate(17.72)"><use href="#di" y="-495.5"/><text transform="rotate(-90)" x="508" y="5.3">ATHSFB2b</text></g>
<g id="n-PtHsfB2a" transform="rotate(20.44)"><use href="#tr" y="-495.5"/><text transform="rotate(-90)" x="508" y="5.3">PtHsfB2a</text></g>
<g id="n-OfHSF6" transform="rotate(23.16)"><use href="#ci" y="-495.5"/><text transform="rotate(-90)" x="508" y="5.3">OfHSF6</text></g>
<g id="n-OfHSF7" transform="rotate(25.88)"><use href="#ci" y="-495.5"/><text transform="rotate(-90)" x="508" y="5.3">OfHSF7</text></g>
<g id="n-PtHsfB2b" transform="rotate(28.6)"><use href="#tr" y="-495.5"/><text transform="rotate(-90)" x="508" y="5.3">PtHsfB2b</text></g>
<g id="n-PtHsfB2c" transform="rotate(31.32)"><use href="#tr" y="-495.5"/><text transform="rotate(-90)" x="508" y="5.3">PtHsfB2c</text></g>
<g id="n-ATHSFB3" transform="rotate(34.04)"><use href="#di" y="-495.5"/><text transform="rotate(-90)" x="508" y="5.3">ATHSFB3</text></g>
<g id="n-OfHSF13" transform="rotate(36.76)"><use href="#ci" y="-495.5"/><text transform="rotate(-90)" x="508" y="5.3">OfHSF13</text></g>
<g id="n-OfHSF22" transform="rotate(39.48)"><use href="#ci" y="-495.5"/><text transform="rotate(-90)" x="508" y="5.3">OfHSF22</text></g>
<g id="n-PtHsfB3a" transform="rotate(42.2)"><use href="#tr" y="-495.5"/><text transform="rotate(-90)" x="508" y="5.3">PtHsfB3a</text></g>
<g id="n-PtHsfB3b" transform="rotate(44.92)"><use href="#tr" y="-495.5"/><text transform="rotate(-90)" x="508" y="5.3">PtHsfB3b</text></g>
<g id="n-PtHsfB3c" transform="rotate(47.64)"><use href="#tr" y="-495.5"/><text transform="rotate(-90)" x="508" y="5.3">PtHsfB3c</text></g>
<g id="n-PbrHsfB3a" transform="rotate(50.36)"><use href="#sq" y="-495.5"/><text transform="rotate(-90)" x="508" y="5.3">PbrHsfB3a</text></g>
<g id="n-PbrHsfB3b" transform="rotate(53.08)"><use href="#sq" y="-495.5"/><text transform="rotate(-90)" x="508" y="5.3">PbrHsfB3b</text></g>
<g id="n-ATHSFB1" transform="rotate(55.8)"><use href="#di" y="-495.5"/><text transform="rotate(-90)" x="508" y="5.3">ATHSFB1</text></g>
<g id="n-PtHsfB1" transform="rotate(58.52)"><use href="#tr" y="-495.5"/><text transform="rotate(-90)" x="508" y="5.3">PtHsfB1</text></g>
<g id="n-OfHSF3" transform="rotate(61.24)"><use href="#ci" y="-495.5"/><text transform="rotate(-90)" x="508" y="5.3">OfHSF3</text></g>
<g id="n-OfHSF34" transform="rotate(63.96)"><use href="#ci" y="-495.5"/><text transform="rotate(-90)" x="508" y="5.3">OfHSF34</text></g>
<g id="n-PbrHsfB1a" transform="rotate(66.68)"><use href="#sq" y="-495.5"/><text transform="rotate(-90)" x="508" y="5.3">PbrHsfB1a</text></g>
<g id="n-PbrHsfB1b" transform="rotate(69.4)"><use href="#sq" y="-495.5"/><text transform="rotate(-90)" x="508" y="5.3">PbrHsfB1b</text></g>
<g id="n-PtHsfB4a" transform="rotate(72.12)"><use href="#tr" y="-495.5"/><text transform="rotate(-90)" x="508" y="5.3">PtHsfB4a</text></g>
<g id="n-PtHsfB4c" transform="rotate(74.84)"><use href="#tr" y="-495.5"/><text transform="rotate(-90)" x="508" y="5.3">PtHsfB4c</text></g>
<g id="n-ATHSFB4" transform="rotate(77.56)"><use href="#di" y="-495.5"/><text transform="rotate(-90)" x="508" y="5.3">ATHSFB4</text></g>
<g id="n-PbrHsfB4a" transform="rotate(80.28)"><use href="#sq" y="-495.5"/><text transform="rotate(-90)" x="508" y="5.3">PbrHsfB4a</text></g>
<g id="n-OfHSF46" transform="rotate(83)"><use href="#ci" y="-495.5"/><text transform="rotate(-90)" x="508" y="5.3">OfHSF46</text></g>
<g id="n-OfHSF29" transform="rotate(85.72)"><use href="#ci" y="-495.5"/><text transform="rotate(-90)" x="508" y="5.3">OfHSF29</text></g>
<g id="n-PtHsfB4b" transform="rotate(88.44)"><use href="#tr" y="-495.5"/><text transform="rotate(-90)" x="508" y="5.3">PtHsfB4b</text></g>
<g id="n-PtHsfB4d" transform="rotate(91.16)"><use href="#tr" y="-495.5"/><text transform="rotate(-90)" x="508" y="5.3">PtHsfB4d</text></g>
<g id="n-OfHSF20" transform="rotate(93.88)"><use href="#ci" y="-495.5"/><text transform="rotate(-90)" x="508" y="5.3">OfHSF20</text></g>
<g id="n-OfHSF27" transform="rotate(96.6)"><use href="#ci" y="-495.5"/><text transform="rotate(-90)" x="508" y="5.3">OfHSF27</text></g>
<g id="n-OfHSF1" transform="rotate(99.32)"><use href="#ci" y="-495.5"/><text transform="rotate(-90)" x="508" y="5.3">OfHSF1</text></g>
<g id="n-PbrHsfB5a" transform="rotate(102.04)"><use href="#sq" y="-495.5"/><text transform="rotate(-90)" x="508" y="5.3">PbrHsfB5a</text></g>
<g id="n-PtHsfB5a" transform="rotate(104.76)"><use href="#tr" y="-495.5"/><text transform="rotate(-90)" x="508" y="5.3">PtHsfB5a</text></g>
<g id="n-PtHsfB5b" transform="rotate(107.48)"><use href="#tr" y="-495.5"/><text transform="rotate(-90)" x="508" y="5.3">PtHsfB5b</text></g>
<g id="n-PtHsfA5a" transform="rotate(110.2)"><use href="#tr" y="-495.5"/><text transform="rotate(-90)" x="508" y="5.3">PtHsfA5a</text></g>
<g id="n-PtHsfA5b" transform="rotate(112.92)"><use href="#tr" y="-495.5"/><text transform="rotate(-90)" x="508" y="5.3">PtHsfA5b</text></g>
<g id="n-PbrHsfA5a" transform="rotate(115.64)"><use href="#sq" y="-495.5"/><text transform="rotate(-90)" x="508" y="5.3">PbrHsfA5a</text></g>
<g id="n-OfHSF32" transform="rotate(118.36)"><use href="#ci" y="-495.5"/><text transform="rotate(-90)" x="508" y="5.3">OfHSF32</text></g>
<g id="n-OfHSF36" transform="rotate(121.08)"><use href="#ci" y="-495.5"/><text transform="rotate(-90)" x="508" y="5.3">OfHSF36</text></g>
<g id="n-ATHSFA5" transform="rotate(123.8)"><use href="#di" y="-495.5"/><text transform="rotate(-90)" x="508" y="5.3">ATHSFA5</text></g>
<g id="n-PbrHsfA4d" transform="rotate(126.52)"><use href="#sq" y="-495.5"/><text transform="rotate(-90)" x="508" y="5.3">PbrHsfA4d</text></g>
<g id="n-PbrHsfA4c" transform="rotate(129.24)"><use href="#sq" y="-495.5"/><text transform="rotate(-90)" x="508" y="5.3">PbrHsfA4c</text></g>
<g id="n-PtHsfA4c" transform="rotate(131.96)"><use href="#tr" y="-495.5"/><text transform="rotate(-90)" x="508" y="5.3">PtHsfA4c</text></g>
<g id="n-OfHSF38" transform="rotate(134.68)"><use href="#ci" y="-495.5"/><text transform="rotate(-90)" x="508" y="5.3">OfHSF38</text></g>
<g id="n-OfHSF4" transform="rotate(137.4)"><use href="#ci" y="-495.5"/><text transform="rotate(-90)" x="508" y="5.3">OfHSF4</text></g>
<g id="n-ATHSFA4a" transform="rotate(140.12)"><use href="#di" y="-495.5"/><text transform="rotate(-90)" x="508" y="5.3">ATHSFA4a</text></g>
<g id="n-ATHSFA4c" transform="rotate(142.84)"><use href="#di" y="-495.5"/><text transform="rotate(-90)" x="508" y="5.3">ATHSFA4c</text></g>
<g id="n-PbrHsfA4a" transform="rotate(145.56)"><use href="#sq" y="-495.5"/><text transform="rotate(-90)" x="508" y="5.3">PbrHsfA4a</text></g>
<g id="n-PbrHsfA4b" transform="rotate(148.28)"><use href="#sq" y="-495.5"/><text transform="rotate(-90)" x="508" y="5.3">PbrHsfA4b</text></g>
<g id="n-PtHsfA4a" transform="rotate(151)"><use href="#tr" y="-495.5"/><text transform="rotate(-90)" x="508" y="5.3">PtHsfA4a</text></g>
<g id="n-PtHsfA4b" transform="rotate(153.72)"><use href="#tr" y="-495.5"/><text transform="rotate(-90)" x="508" y="5.3">PtHsfA4b</text></g>
<g id="n-OfHSF40" transform="rotate(156.44)"><use href="#ci" y="-495.5"/><text transform="rotate(-90)" x="508" y="5.3">OfHSF40</text></g>
<g id="n-OfHSF37" transform="rotate(159.16)"><use href="#ci" y="-495.5"/><text transform="rotate(-90)" x="508" y="5.3">OfHSF37</text></g>
<g id="n-OfHSF2" transform="rotate(161.88)"><use href="#ci" y="-495.5"/><text transform="rotate(-90)" x="508" y="5.3">OfHSF2</text></g>
<g id="n-OfHSF39" transform="rotate(164.6)"><use href="#ci" y="-495.5"/><text transform="rotate(-90)" x="508" y="5.3">OfHSF39</text></g>
<g id="n-PbrHsfA3a" transform="rotate(167.32)"><use href="#sq" y="-495.5"/><text transform="rotate(-90)" x="508" y="5.3">PbrHsfA3a</text></g>
<g id="n-PbrHsfA3b" transform="rotate(170.04)"><use href="#sq" y="-495.5"/><text transform="rotate(-90)" x="508" y="5.3">PbrHsfA3b</text></g>
<g id="n-PtHsfA3" transform="rotate(172.76)"><use href="#tr" y="-495.5"/><text transform="rotate(-90)" x="508" y="5.3">PtHsfA3</text></g>
<g id="n-OfHSF21" transform="rotate(175.48)"><use href="#ci" y="-495.5"/><text transform="rotate(-90)" x="508" y="5.3">OfHSF21</text></g>
<g id="n-ATHSFA3" transform="rotate(178.2)"><use href="#di" y="-495.5"/><text transform="rotate(-90)" x="508" y="5.3">ATHSFA3</text></g>
<g id="n-PbrHsfA6b" transform="rotate(180.92)"><use href="#sq" y="-495.5"/><text class="l" transform="rotate(90)" x="-508" y="5.3">PbrHsfA6b</text></g>
<g id="n-PbrHsfA6c" transform="rotate(183.64)"><use href="#sq" y="-495.5"/><text class="l" transform="rotate(90)" x="-508" y="5.3">PbrHsfA6c</text></g>
<g id="n-PbrHsfA6a" transform="rotate(186.36)"><use href="#sq" y="-495.5"/><text class="l" transform="rotate(90)" x="-508" y="5.3">PbrHsfA6a</text></g>
<g id="n-PtHsfA6a" transform="rotate(189.08)"><use href="#tr" y="-495.5"/><text class="l" transform="rotate(90)" x="-508" y="5.3">PtHsfA6a</text></g>
<g id="n-PtHsfA6b" transform="rotate(191.8)"><use href="#tr" y="-495.5"/><text class="l" transform="rotate(90)" x="-508" y="5.3">PtHsfA6b</text></g>
<g id="n-OfHSF30" transform="rotate(194.52)"><use href="#ci" y="-495.5"/><text class="l" transform="rotate(90)" x="-508" y="5.3">OfHSF30</text></g>
<g id="n-OfHSF45" transform="rotate(197.24)"><use href="#ci" y="-495.5"/><text class="l" transform="rotate(90)" x="-508" y="5.3">OfHSF45</text></g>
<g id="n-ATHSFA6b" transform="rotate(199.96)"><use href="#di" y="-495.5"/><text class="l" transform="rotate(90)" x="-508" y="5.3">ATHSFA6b</text></g>
<g id="n-OfHSF25" transform="rotate(202.68)"><use href="#ci" y="-495.5"/><text class="l" transform="rotate(90)" x="-508" y="5.3">OfHSF25</text></g>
<g id="n-OfHSF16" transform="rotate(205.4)"><use href="#ci" y="-495.5"/><text class="l" transform="rotate(90)" x="-508" y="5.3">OfHSF16</text></g>
<g id="n-PbrHsfA7a" transform="rotate(208.12)"><use href="#sq" y="-495.5"/><text class="l" transform="rotate(90)" x="-508" y="5.3">PbrHsfA7a</text></g>
<g id="n-PbrHsfA7b" transform="rotate(210.84)"><use href="#sq" y="-495.5"/><text class="l" transform="rotate(90)" x="-508" y="5.3">PbrHsfA7b</text></g>
<g id="n-PtHsfA7a" transform="rotate(213.56)"><use href="#tr" y="-495.5"/><text class="l" transform="rotate(90)" x="-508" y="5.3">PtHsfA7a</text></g>
<g id="n-PtHsfA7b" transform="rotate(216.28)"><use href="#tr" y="-495.5"/><text class="l" transform="rotate(90)" x="-508" y="5.3">PtHsfA7b</text></g>
<g id="n-ATHSFA7a" transform="rotate(219)"><use href="#di" y="-495.5"/><text class="l" transform="rotate(90)" x="-508" y="5.3">ATHSFA7a</text></g>
<g id="n-ATHSFA7b" transform="rotate(221.72)"><use href="#di" y="-495.5"/><text class="l" transform="rotate(90)" x="-508" y="5.3">ATHSFA7b</text></g>
<g id="n-ATHSFA6a" transform="rotate(224.44)"><use href="#di" y="-495.5"/><text class="l" transform="rotate(90)" x="-508" y="5.3">ATHSFA6a</text></g>
<g id="n-PbrHsfA9b" transform="rotate(227.16)"><use href="#sq" y="-495.5"/><text class="l" transform="rotate(90)" x="-508" y="5.3">PbrHsfA9b</text></g>
<g id="n-PbrHsfA9a" transform="rotate(229.88)"><use href="#sq" y="-495.5"/><text class="l" transform="rotate(90)" x="-508" y="5.3">PbrHsfA9a</text></g>
<g id="n-ATHSFA9" transform="rotate(232.6)"><use href="#di" y="-495.5"/><text class="l" transform="rotate(90)" x="-508" y="5.3">ATHSFA9</text></g>
<g id="n-PtHsfA9" transform="rotate(235.32)"><use href="#tr" y="-495.5"/><text class="l" transform="rotate(90)" x="-508" y="5.3">PtHsfA9</text></g>
<g id="n-OfHSF31" transform="rotate(238.04)"><use href="#ci" y="-495.5"/><text class="l" transform="rotate(90)" x="-508" y="5.3">OfHSF31</text></g>
<g id="n-OfHSF23" transform="rotate(240.76)"><use href="#ci" y="-495.5"/><text class="l" transform="rotate(90)" x="-508" y="5.3">OfHSF23</text></g>
<g id="n-OfHSF12" transform="rotate(243.48)"><use href="#ci" y="-495.5"/><text class="l" transform="rotate(90)" x="-508" y="5.3">OfHSF12</text></g>
<g id="n-PbrHsfA2a" transform="rotate(246.2)"><use href="#sq" y="-495.5"/><text class="l" transform="rotate(90)" x="-508" y="5.3">PbrHsfA2a</text></g>
<g id="n-PtHsfA2" transform="rotate(248.92)"><use href="#tr" y="-495.5"/><text class="l" transform="rotate(90)" x="-508" y="5.3">PtHsfA2</text></g>
<g id="n-ATHSFA2" transform="rotate(251.64)"><use href="#di" y="-495.5"/><text class="l" transform="rotate(90)" x="-508" y="5.3">ATHSFA2</text></g>
<g id="n-OfHSF28" transform="rotate(254.36)"><use href="#ci" y="-495.5"/><text class="l" transform="rotate(90)" x="-508" y="5.3">OfHSF28</text></g>
<g id="n-OfHSF5" transform="rotate(257.08)"><use href="#ci" y="-495.5"/><text class="l" transform="rotate(90)" x="-508" y="5.3">OfHSF5</text></g>
<g id="n-OfHSF42" transform="rotate(259.8)"><use href="#ci" y="-495.5"/><text class="l" transform="rotate(90)" x="-508" y="5.3">OfHSF42</text></g>
<g id="n-OfHSF41" transform="rotate(262.52)"><use href="#ci" y="-495.5"/><text class="l" transform="rotate(90)" x="-508" y="5.3">OfHSF41</text></g>
<g id="n-PtHsfA8a" transform="rotate(265.24)"><use href="#tr" y="-495.5"/><text class="l" transform="rotate(90)" x="-508" y="5.3">PtHsfA8a</text></g>
<g id="n-PtHsfA8b" transform="rotate(267.96)"><use href="#tr" y="-495.5"/><text class="l" transform="rotate(90)" x="-508" y="5.3">PtHsfA8b</text></g>
<g id="n-PbrHsfA8a" transform="rotate(270.68)"><use href="#sq" y="-495.5"/><text class="l" transform="rotate(90)" x="-508" y="5.3">PbrHsfA8a</text></g>
<g id="n-OfHSF43" transform="rotate(273.4)"><use href="#ci" y="-495.5"/><text class="l" transform="rotate(90)" x="-508" y="5.3">OfHSF43</text></g>
<g id="n-OfHSF9" transform="rotate(276.12)"><use href="#ci" y="-495.5"/><text class="l" transform="rotate(90)" x="-508" y="5.3">OfHSF9</text></g>
<g id="n-ATHSFA8" transform="rotate(278.84)"><use href="#di" y="-495.5"/><text class="l" transform="rotate(90)" x="-508" y="5.3">ATHSFA8</text></g>
<g id="n-ATHSFA1a" transform="rotate(281.56)"><use href="#di" y="-495.5"/><text class="l" transform="rotate(90)" x="-508" y="5.3">ATHSFA1a</text></g>
<g id="n-PtHsfA1a" transform="rotate(284.28)"><use href="#tr" y="-495.5"/><text class="l" transform="rotate(90)" x="-508" y="5.3">PtHsfA1a</text></g>
<g id="n-PtHsfA1b" transform="rotate(287)"><use href="#tr" y="-495.5"/><text class="l" transform="rotate(90)" x="-508" y="5.3">PtHsfA1b</text></g>
<g id="n-PbrHsfA1c" transform="rotate(289.72)"><use href="#sq" y="-495.5"/><text class="l" transform="rotate(90)" x="-508" y="5.3">PbrHsfA1c</text></g>
<g id="n-ATHSFA1d" transform="rotate(292.44)"><use href="#di" y="-495.5"/><text class="l" transform="rotate(90)" x="-508" y="5.3">ATHSFA1d</text></g>
<g id="n-OfHSF44" transform="rotate(295.16)"><use href="#ci" y="-495.5"/><text class="l" transform="rotate(90)" x="-508" y="5.3">OfHSF44</text></g>
<g id="n-OfHSF35" transform="rotate(297.88)"><use href="#ci" y="-495.5"/><text class="l" transform="rotate(90)" x="-508" y="5.3">OfHSF35</text></g>
<g id="n-OfHSF33" transform="rotate(300.6)"><use href="#ci" y="-495.5"/><text class="l" transform="rotate(90)" x="-508" y="5.3">OfHSF33</text></g>
<g id="n-ATHSFA1b" transform="rotate(303.32)"><use href="#di" y="-495.5"/><text class="l" transform="rotate(90)" x="-508" y="5.3">ATHSFA1b</text></g>
<g id="n-ATHSFA1e" transform="rotate(306.04)"><use href="#di" y="-495.5"/><text class="l" transform="rotate(90)" x="-508" y="5.3">ATHSFA1e</text></g>
<g id="n-OfHSF15" transform="rotate(308.76)"><use href="#ci" y="-495.5"/><text class="l" transform="rotate(90)" x="-508" y="5.3">OfHSF15</text></g>
<g id="n-OfHSF8" transform="rotate(311.48)"><use href="#ci" y="-495.5"/><text class="l" transform="rotate(90)" x="-508" y="5.3">OfHSF8</text></g>
<g id="n-PtHsfA1c" transform="rotate(314.2)"><use href="#tr" y="-495.5"/><text class="l" transform="rotate(90)" x="-508" y="5.3">PtHsfA1c</text></g>
<g id="n-PbrHsfA1a" transform="rotate(316.92)"><use href="#sq" y="-495.5"/><text class="l" transform="rotate(90)" x="-508" y="5.3">PbrHsfA1a</text></g>
<g id="n-PbrHsfA1b" transform="rotate(319.64)"><use href="#sq" y="-495.5"/><text class="l" transform="rotate(90)" x="-508" y="5.3">PbrHsfA1b</text></g>
<g id="n-ATHSFC1" transform="rotate(322.36)"><use href="#di" y="-495.5"/><text class="l" transform="rotate(90)" x="-508" y="5.3">ATHSFC1</text></g>
<g id="n-PbrHsfC1a" transform="rotate(325.08)"><use href="#sq" y="-495.5"/><text class="l" transform="rotate(90)" x="-508" y="5.3">PbrHsfC1a</text></g>
<g id="n-PbrHsfC1b" transform="rotate(327.8)"><use href="#sq" y="-495.5"/><text class="l" transform="rotate(90)" x="-508" y="5.3">PbrHsfC1b</text></g>
<g id="n-PtHsfC" transform="rotate(330.52)"><use href="#tr" y="-495.5"/><text class="l" transform="rotate(90)" x="-508" y="5.3">PtHsfC</text></g>
<g id="n-OfHSF10" transform="rotate(333.24)"><use href="#ci" y="-495.5"/><text class="l" transform="rotate(90)" x="-508" y="5.3">OfHSF10</text></g>
<g id="n-OfHSF26" transform="rotate(335.96)"><use href="#ci" y="-495.5"/><text class="l" transform="rotate(90)" x="-508" y="5.3">OfHSF26</text></g>
<g id="n-OfHSF18" transform="rotate(338.68)"><use href="#ci" y="-495.5"/><text class="l" transform="rotate(90)" x="-508" y="5.3">OfHSF18</text></g>
<g id="n-OfHSF17" transform="rotate(341.4)"><use href="#ci" y="-495.5"/><text class="l" transform="rotate(90)" x="-508" y="5.3">OfHSF17</text></g>
</g>
</g>
<g id="clade-labels">
<text class="big" x="772" y="162" fill="#84f05a" style="font-size:212px">C</text>
<text class="big" x="3188" y="590" fill="#8e9dcb">B</text>
<text class="big" x="420" y="3075" fill="#ef5f5f">A</text>
</g>
<g id="legend">
<polygon points="3416,2757 3446,2787 3416,2817 3386,2787" fill="#00b050"/>
<text class="leg" x="3495" y="2815">A.thaliana</text>
<circle cx="3416" cy="2913" r="29" fill="#ff0000"/>
<text class="leg" x="3495" y="2941">O.fragrans</text>
<rect x="3388" y="3034" width="56" height="56" fill="#ffc000"/>
<text class="leg" x="3495" y="3090">P.bretschneideri</text>
<polygon points="3416,3168 3447,3222 3385,3222" fill="#0070c0"/>
<text class="leg" x="3495" y="3224">P.trichocarpa</text>
</g>
</svg>
